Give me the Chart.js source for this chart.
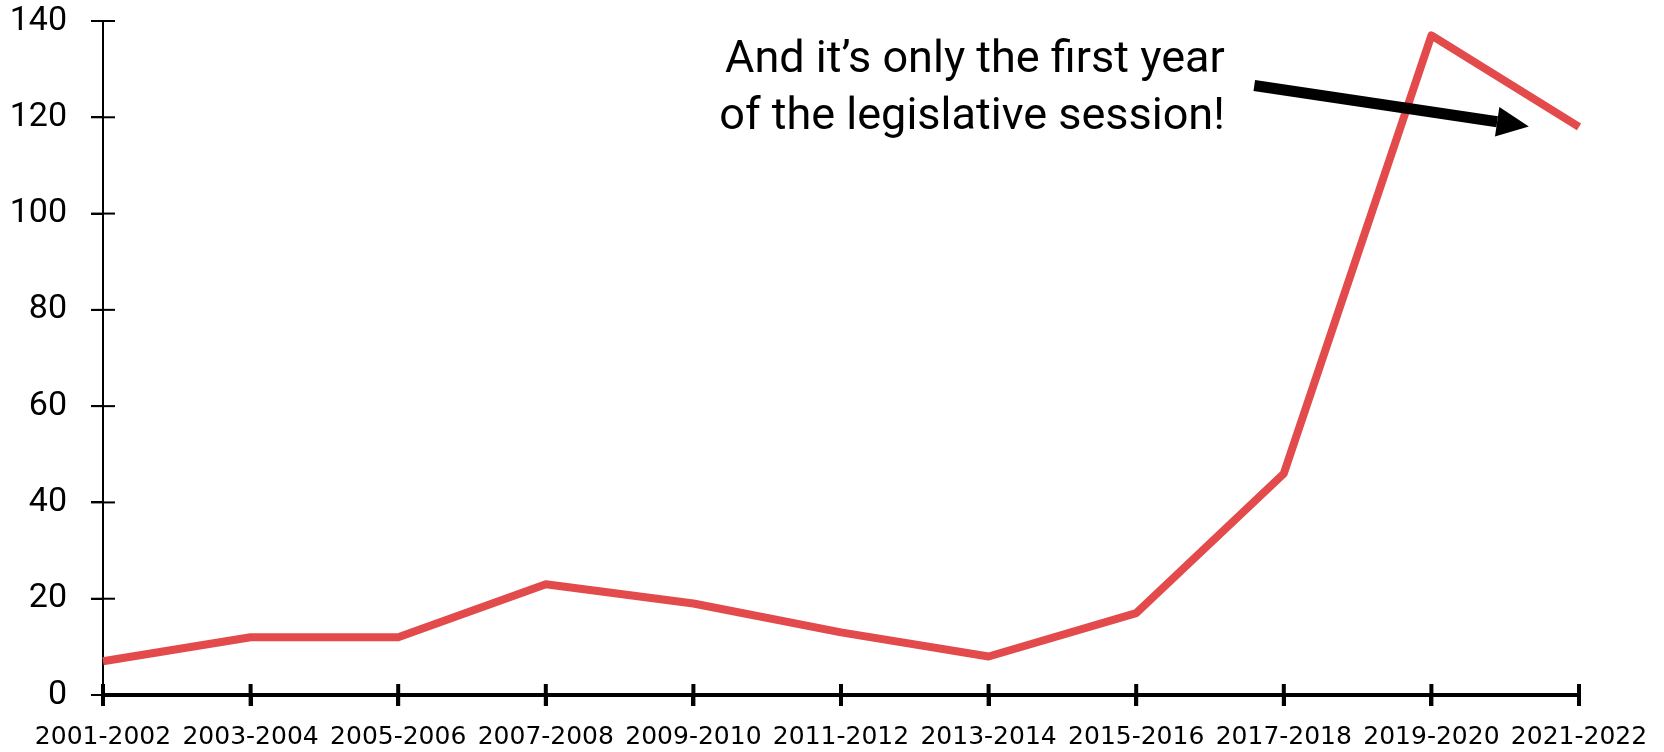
<!DOCTYPE html>
<html>
<head>
<meta charset="utf-8">
<script src="https://cdn.jsdelivr.net/npm/chart.js@4.4.1/dist/chart.umd.min.js"></script>
<style>
  html, body { margin: 0; padding: 0; background: #fff; }
  #wrap { width: 1664px; height: 752px; position: relative; }
</style>
</head>
<body>
<div id="wrap"><canvas id="billsChart"></canvas></div>
<script>
// Data
const sessions = ['2001-2002', '2003-2004', '2005-2006', '2007-2008', '2009-2010', '2011-2012',
                  '2013-2014', '2015-2016', '2017-2018', '2019-2020', '2021-2022'];
const billCounts = [7, 12, 12, 23, 19, 13, 8, 17, 46, 137, 118];
const yMin = 0, yMax = 140, yStep = 20;
const noteLines = ['And it’s only the first year', 'of the legislative session!'];

// Ticks that cross the axis lines (Chart.js only draws the outer half)
const crossTicks = {
    id: 'crossTicks',
    afterDraw(chart) {
        const { ctx, scales: { x, y } } = chart;
        ctx.save();
        ctx.strokeStyle = '#000';
        ctx.lineWidth = 2;
        y.ticks.forEach(t => {
            const py = y.getPixelForValue(t.value);
            ctx.beginPath();
            ctx.moveTo(x.left - 12, py);
            ctx.lineTo(x.left + 12, py);
            ctx.stroke();
        });
        ctx.lineWidth = 4;
        x.ticks.forEach((t, i) => {
            const px = x.getPixelForTick(i);
            ctx.beginPath();
            ctx.moveTo(px, y.bottom - 11);
            ctx.lineTo(px, y.bottom + 11);
            ctx.stroke();
        });
        ctx.restore();
    }
};

// Text note + arrow, placed in data space
const noteArrow = {
    id: 'noteArrow',
    afterDraw(chart, args, opts) {
        const { ctx, scales: { x, y } } = chart;
        ctx.save();
        ctx.fillStyle = '#000';
        ctx.font = opts.font;
        ctx.textAlign = 'right';
        ctx.textBaseline = 'alphabetic';
        const tx = x.getPixelForValue(opts.textAt[0]);
        opts.lines.forEach((line, i) => {
            ctx.fillText(line, tx, y.getPixelForValue(opts.textAt[1]) + i * opts.lineGap);
        });

        const x0 = x.getPixelForValue(opts.from[0]), y0 = y.getPixelForValue(opts.from[1]);
        const x1 = x.getPixelForValue(opts.to[0]), y1 = y.getPixelForValue(opts.to[1]);
        const ang = Math.atan2(y1 - y0, x1 - x0);
        const hl = 32, hw = 15;
        const bx = x1 - hl * Math.cos(ang), by = y1 - hl * Math.sin(ang);
        ctx.strokeStyle = '#000';
        ctx.lineWidth = 11;
        ctx.beginPath();
        ctx.moveTo(x0, y0);
        ctx.lineTo(bx, by);
        ctx.stroke();
        ctx.beginPath();
        ctx.moveTo(x1, y1);
        ctx.lineTo(bx + hw * Math.sin(ang), by - hw * Math.cos(ang));
        ctx.lineTo(bx - hw * Math.sin(ang), by + hw * Math.cos(ang));
        ctx.closePath();
        ctx.fill();
        ctx.restore();
    }
};

new Chart(document.getElementById('billsChart'), {
    type: 'line',
    data: {
        labels: sessions,
        datasets: [{
            data: billCounts,
            borderColor: '#e34a4b',
            borderWidth: 8,
            borderJoinStyle: 'round',
            pointRadius: 0,
            fill: false,
            tension: 0
        }]
    },
    options: {
        responsive: true,
        maintainAspectRatio: false,
        animation: false,
        layout: { padding: { top: 21, right: 85, left: 0, bottom: 0 } },
        plugins: {
            legend: { display: false },
            tooltip: { enabled: false },
            noteArrow: {
                lines: noteLines,
                font: '45px Roboto',
                textAt: [7.6, 129.4],
                lineGap: 57,
                from: [7.80, 126.6],
                to: [9.66, 118.1]
            }
        },
        scales: {
            x: {
                offset: false,
                grid: { drawOnChartArea: false, color: '#000', tickLength: 11, lineWidth: 4 },
                border: { color: '#000', width: 4 },
                ticks: {
                    color: '#000',
                    font: { family: 'DejaVu Sans', size: 25 },
                    padding: 16,
                    maxRotation: 0,
                    autoSkip: false
                },
                afterFit(scale) { scale.height = 57; }
            },
            y: {
                min: yMin,
                max: yMax,
                ticks: {
                    stepSize: yStep,
                    color: '#000',
                    font: { family: 'Roboto', size: 34 },
                    padding: 24
                },
                grid: { drawOnChartArea: false, color: '#000', tickLength: 12, lineWidth: 2 },
                border: { color: '#000', width: 2 },
                afterFit(scale) {
                    scale.width = 103;
                    scale.paddingTop = 0;
                    scale.paddingBottom = 0;
                }
            }
        }
    },
    plugins: [crossTicks, noteArrow]
});
</script>
</body>
</html>
